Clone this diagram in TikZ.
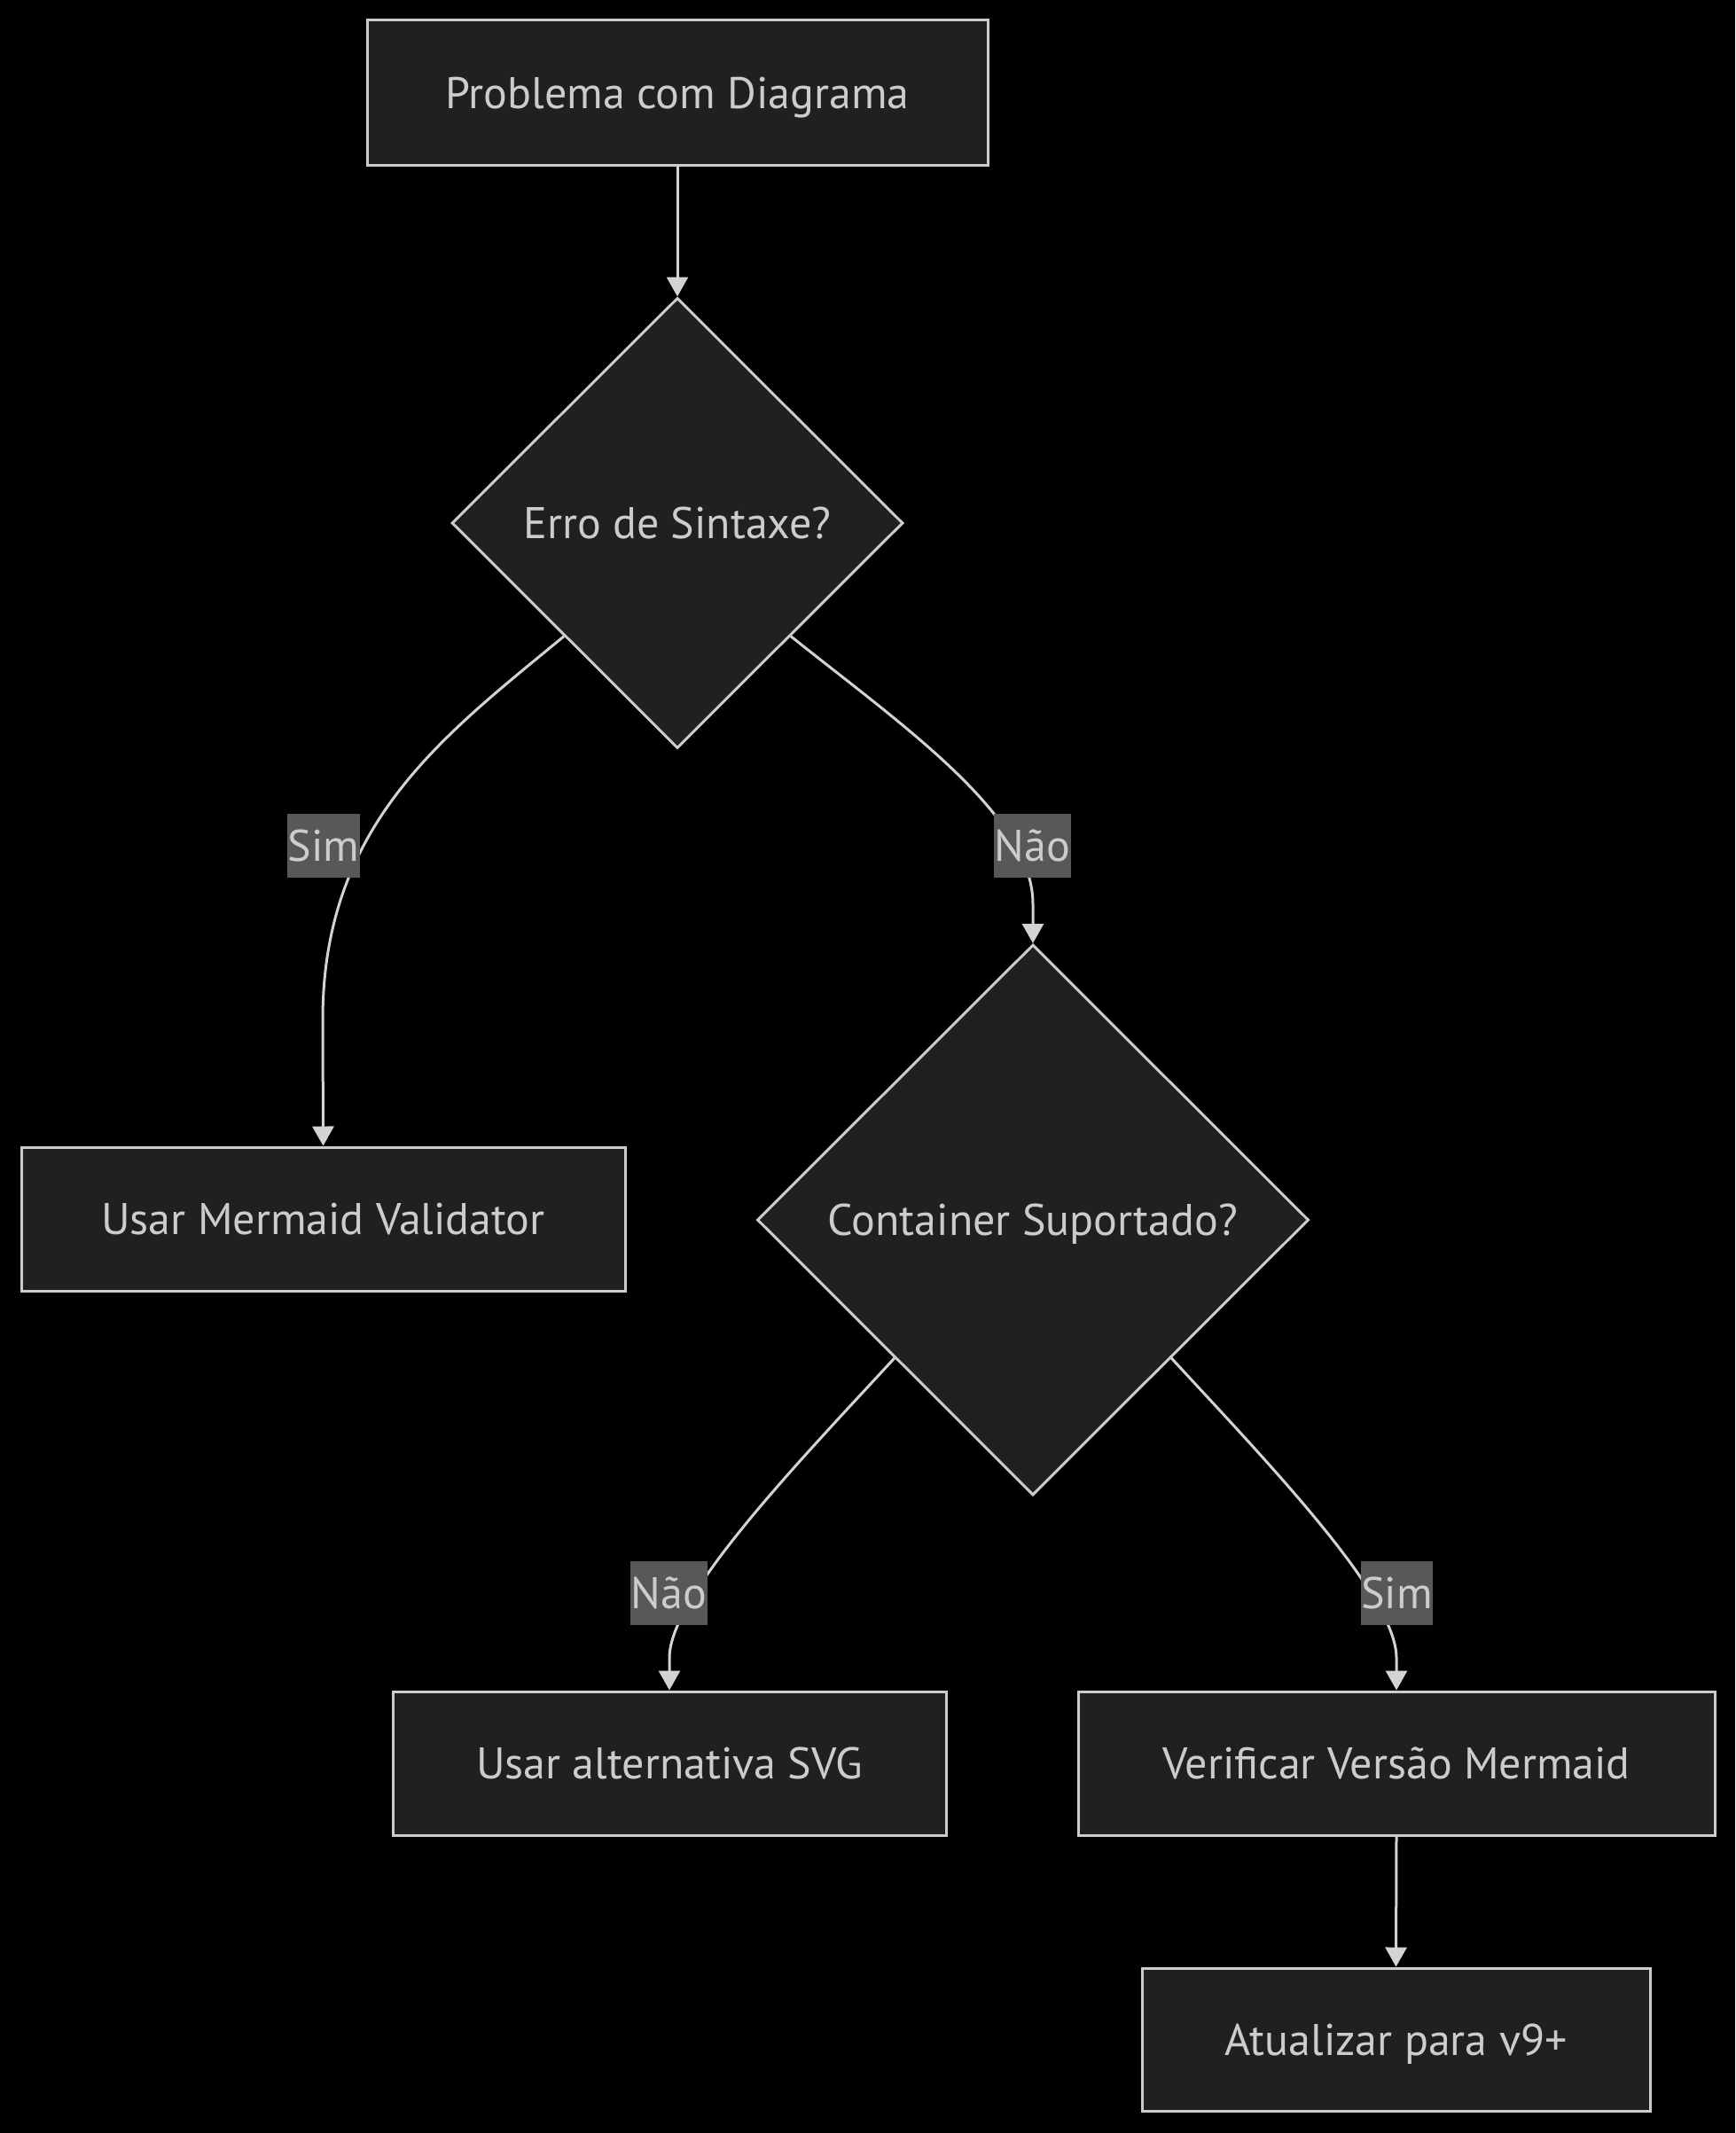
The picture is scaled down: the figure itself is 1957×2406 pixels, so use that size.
\documentclass[tikz,border=0pt]{standalone}
\usepackage{fontspec}
\setmainfont{PT Sans}
\usetikzlibrary{shapes.geometric,arrows.meta}
\definecolor{nodefill}{HTML}{1F2020}
\definecolor{nodeline}{HTML}{CCCCCC}
\definecolor{txt}{HTML}{CCCCCC}
\definecolor{edgec}{HTML}{D3D3D3}
\definecolor{lblfill}{HTML}{585858}
\begin{document}
\begin{tikzpicture}[x=1pt,y=-1pt,
  box/.style={draw=nodeline, fill=nodefill, line width=3pt, text=txt,
    inner sep=0pt, font=\fontsize{50}{60}\selectfont, text height=35pt, text depth=0pt},
  dia/.style={box, diamond, aspect=1},
  edge/.style={draw=edgec, line width=3pt, -{Triangle[width=24pt,length=22pt]}},
  lbl/.style={fill=lblfill, text=txt, inner xsep=0.5pt, inner ysep=0pt,
    minimum height=72pt, font=\fontsize{50}{60}\selectfont, text height=35pt, text depth=0pt}]
\fill[black] (0,0) rectangle (1957,2406);
\useasboundingbox (0,0) rectangle (1957,2406);

\node[box, minimum width=700pt, minimum height=163pt] (p) at (764,104.5) {Problema com Diagrama};
\node[dia, minimum width=509pt, minimum height=508pt] (d1) at (764,590) {Erro de Sintaxe?};
\node[box, minimum width=681pt, minimum height=162pt] (val) at (364.5,1375) {Usar Mermaid Validator};
\node[dia, minimum width=622pt, minimum height=621pt] (d2) at (1165,1376) {Container Suportado?};
\node[box, minimum width=624pt, minimum height=162pt] (svg) at (755,1989) {Usar alternativa SVG};
\node[box, minimum width=718pt, minimum height=162pt] (ver) at (1575,1989) {Verificar Versão Mermaid};
\node[box, minimum width=573pt, minimum height=161pt] (upd) at (1574.5,2300.5) {Atualizar para v9+};

\draw[edge] (p.south) -- (d1.north);
\draw[edge] (d1.south west) .. controls (500,830) and (364,930) .. (364,1150) -- (val.north);
\draw[edge] (d1.south east) .. controls (1020,820) and (1165,920) .. (1165,1020) -- (d2.north);
\draw[edge] (d2.south west) .. controls (900,1650) and (755,1800) .. (755,1870) -- (svg.north);
\draw[edge] (d2.south east) .. controls (1430,1650) and (1575,1800) .. (1575,1870) -- (ver.north);
\draw[edge] (ver.south) -- (upd.north);

\node[lbl] (l1) at (365,954) {Sim};
\node[lbl] (l2) at (1164.5,954) {Não};
\node[lbl] (l3) at (754.5,1797) {Não};
\node[lbl] (l4) at (1575.5,1797) {Sim};
\end{tikzpicture}
\end{document}
